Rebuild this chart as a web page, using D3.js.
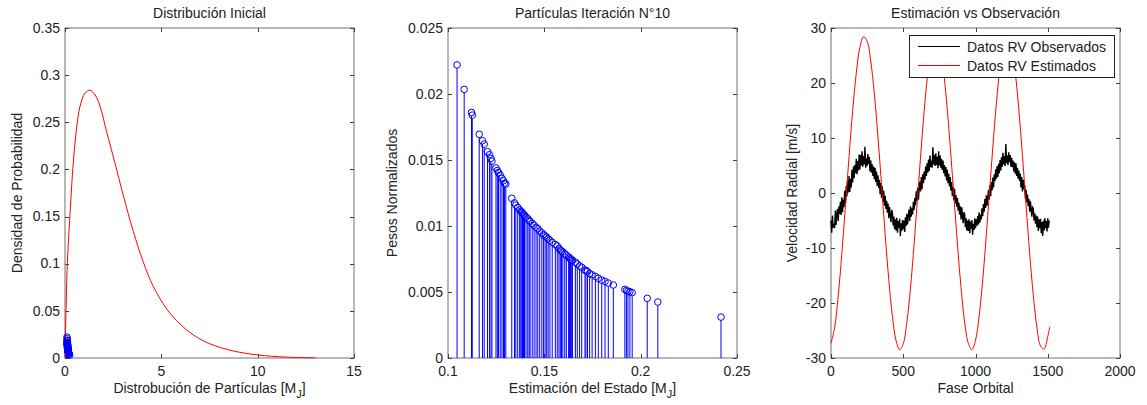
<!DOCTYPE html>
<html><head><meta charset="utf-8">
<script src="https://cdn.jsdelivr.net/npm/d3@7"></script>
<style>
body{margin:0;background:#fff}
svg{display:block}
text{font-family:"Liberation Sans",Arial,sans-serif;fill:#222;font-size:14px}
</style>
</head><body>
<svg id="c" width="1147" height="405"></svg>
<script>
// ---------- DATA ----------
// Panel 1: initial distribution (pdf curve)
const pdfX = [0, 0.02, 0.05, 0.12, 0.26, 0.43, 0.61, 0.78, 1.04, 1.30, 1.56, 1.82, 2.16, 2.59, 3.03, 3.55, 4.06, 4.58, 5.28, 5.97, 6.66, 7.52, 8.73, 9.98, 11.5, 13.0];
const pdfY = [0, 0.02, 0.047, 0.100, 0.153, 0.207, 0.245, 0.267, 0.281, 0.284, 0.279, 0.267, 0.240, 0.207, 0.172, 0.134, 0.102, 0.076, 0.052, 0.036, 0.0245, 0.0150, 0.0075, 0.0033, 0.0009, 0.0002];

// Panel 2: particles (state estimate, normalized weight)
const partX = [0.1047,0.1084,0.1122,0.1126,0.1162,0.1179,0.1188,0.1205,0.1215,0.1223,0.1228,0.1249,0.1256,0.1262,0.1271,0.1280,0.1288,0.1293,0.1300,
  0.1331,0.1345,0.1352,0.1362,0.1372,0.1378,0.1383,0.1387,0.1392,0.1397,0.1405,0.1414,0.1421,0.1426,0.1437,0.1447,0.1457,0.1466,0.1476,0.1487,0.1496,
  0.1504,0.1512,0.1520,0.1529,0.1541,0.1557,0.1567,0.1576,0.1583,0.1589,0.1596,0.1606,0.1614,0.1626,0.1631,0.1636,0.1642,0.1646,0.1661,0.1671,0.1683,
  0.1694,0.1711,0.1716,0.1724,0.1735,0.1748,0.1765,0.1780,0.1798,0.1815,0.1832,0.1858,0.1918,0.1926,0.1934,0.1944,0.1956,0.2034,0.2089,0.2417];
const partW = [0.0222,0.02035,0.0186,0.0184,0.01695,0.01646,0.0162,0.01563,0.0154,0.01513,0.01492,0.0144,0.0142,0.01405,0.01386,0.01361,0.01343,0.01325,0.01318,
  0.0121,0.01175,0.01158,0.0114,0.01122,0.01112,0.01105,0.01098,0.0109,0.01082,0.01068,0.01055,0.01043,0.01035,0.0102,0.01005,0.0099,0.0098,0.00962,0.00948,0.00935,
  0.00925,0.00915,0.00903,0.00892,0.00876,0.0086,0.00848,0.0083,0.00818,0.0081,0.00803,0.0079,0.00779,0.00765,0.00758,0.0075,0.00744,0.0074,0.00726,0.00712,0.00697,
  0.00687,0.00667,0.00661,0.00655,0.0064,0.0063,0.00618,0.00604,0.0059,0.0058,0.00568,0.00553,0.0052,0.00512,0.00506,0.00502,0.00495,0.00452,0.00424,0.0031];

// Panel 3: observed RV (one value every 5 phase units, from 0)
const obsStep = 5;
const obsRV = [
 -5.0,-7.2,-4.1,-6.3,-5.6, -6.4,-3.2,-5.8,-4.0,-2.9, -5.1,-2.4,-3.8,-1.6,-4.0, -0.8,-3.5,-1.2,-2.6,0.4, -1.9,1.2,-0.6,2.3,0.1,
 3.1,0.2,2.6,1.0,4.2, 1.9,4.8,2.7,5.1,3.6, 6.2,3.4,5.8,4.1,7.0, 4.3,6.9,5.0,7.6,4.8, 6.7,5.2,8.4,4.6,6.3,
 4.9,7.1,5.3,6.6,3.9, 5.9,3.7,5.2,3.1,4.8, 2.5,4.6,2.0,3.9,1.3, 3.2,0.9,2.4,-0.2,1.8, -0.9,1.2,-1.6,0.4,-2.3,
 -0.5,-2.9,-1.4,-3.6,-1.9, -4.6,-2.5,-4.0,-5.3,-3.1, -3.6,-5.9,-4.3,-6.6,-4.8, -6.8,-4.5,-7.2,-5.1,-6.3, -4.7,-7.8,-5.5,-6.9,-4.9,
 -6.6,-5.0,-7.1,-4.4,-6.0, -3.8,-5.7,-4.2,-3.0,-5.1, -2.4,-4.3,-2.8,-3.9,-1.6, -3.1,-0.9,-2.2,0.3,-1.4, 1.0,-1.2,0.8,2.1,0.3,
 2.9,0.7,3.4,1.8,3.9, 2.4,4.8,3.1,5.4,3.7, 6.1,4.0,6.8,4.7,5.9, 4.6,8.3,5.2,6.9,4.9, 7.2,5.1,6.6,4.5,7.6,
 5.0,6.8,4.6,6.2,4.2, 5.9,3.6,5.1,3.0,4.7, 2.3,4.2,1.8,3.5,1.2, 2.9,0.4,2.0,-0.6,1.1, -1.3,0.8,-1.9,-0.4,-2.5,
 -0.9,-3.2,-1.8,-3.9,-2.4, -4.8,-2.6,-4.2,-5.5,-3.5, -3.9,-6.2,-4.6,-6.8,-5.0, -6.9,-4.8,-7.3,-5.2,-6.5, -4.9,-7.6,-5.6,-6.7,-4.6,
 -6.4,-4.8,-6.0,-4.2,-5.7, -3.5,-5.4,-3.9,-4.8,-2.8, -4.2,-2.0,-3.4,-1.1,-2.7, -0.4,-2.3,-0.9,0.6,-1.2, 1.4,-0.6,2.0,0.5,2.8,
 1.0,3.4,2.2,4.3,2.6, 4.9,2.9,5.3,3.6,6.0, 4.1,6.5,4.8,7.3,5.2, 6.7,4.9,8.9,5.4,6.8, 5.1,7.4,5.6,6.9,4.8,
 6.4,4.7,5.9,3.9,5.6, 3.5,5.4,3.1,4.6,2.6, 4.1,2.2,3.5,1.0,2.9, 0.3,2.4,0.7,1.5,-1.0, 0.6,-1.7,-0.3,-2.4,-1.1,
 -3.4,-1.5,-3.0,-4.3,-2.6, -2.8,-5.0,-3.7,-5.6,-4.1, -6.2,-4.3,-6.9,-4.8,-6.4, -4.7,-7.3,-5.3,-7.8,-5.0, -6.8,-4.6,-6.4,-5.1,-7.0,
 -4.6,-6.3,-5.0];

// Panel 3: estimated RV
const estFase = [0,25,50,75,100,125,150,175,200,225,250,275,300,325,350,375,400,425,450,475,500,525,550,575,600,625,650,675,700,725,
  750,775,800,825,850,875,900,925,950,975,1000,1025,1050,1075,1100,1125,1150,1175,1200,1225,1250,1275,1300,1325,1350,1375,1400,1425,1450,1475,1500,1515];
const estRV = [-27.3,-24.5,-18.7,-11.0,-2.3,6.7,15.0,21.8,26.5,28.4,27.6,24.0,18.0,10.2,1.4,-7.6,-15.8,-22.4,-26.8,-28.5,-27.4,-23.5,-17.3,-9.3,-0.5,
  8.4,16.5,22.9,27.1,28.5,27.1,23.0,16.6,8.5,-0.4,-9.3,-17.2,-23.5,-27.3,-28.5,-26.8,-22.4,-15.8,-7.6,1.3,10.1,17.9,24.0,27.6,28.4,26.5,21.9,15.1,6.8,-2.2,
  -11.0,-18.6,-24.4,-27.8,-28.4,-26.1,-24.3];

// Tick values
const p1XTicks = [0,5,10,15];
const p1YTicks = [0,0.05,0.1,0.15,0.2,0.25,0.3,0.35];
const p2XTicks = [0.1,0.15,0.2,0.25];
const p2YTicks = [0,0.005,0.01,0.015,0.02,0.025];
const p3XTicks = [0,500,1000,1500,2000];
const p3YTicks = [-30,-20,-10,0,10,20,30];
const legendLabels = ["Datos RV Observados","Datos RV Estimados"];

// ---------- DRAW ----------
const svg = d3.select("#c");
const plotTop = 28, plotBottom = 358;
const fmt = d => String(+d.toFixed(4));

function axesFrame(g, x, y, xt, yt, title, xlab, ylab, ylabX) {
  const [l, r] = x.range();
  g.append("rect").attr("x", l).attr("y", plotTop).attr("width", r - l).attr("height", plotBottom - plotTop)
    .attr("fill", "#fff").attr("stroke", "#707070").attr("stroke-width", 1);
  const tk = g.append("g").attr("stroke", "#404040").attr("stroke-width", 1);
  xt.forEach(v => {
    const px = Math.round(x(v)) + 0.5;
    tk.append("line").attr("x1", px).attr("x2", px).attr("y1", plotBottom).attr("y2", plotBottom - 4);
    tk.append("line").attr("x1", px).attr("x2", px).attr("y1", plotTop).attr("y2", plotTop + 4);
    g.append("text").attr("x", x(v)).attr("y", plotBottom + 18).attr("text-anchor", "middle").text(fmt(v));
  });
  yt.forEach(v => {
    const py = Math.round(y(v)) + 0.5;
    tk.append("line").attr("x1", l).attr("x2", l + 4).attr("y1", py).attr("y2", py);
    tk.append("line").attr("x1", r).attr("x2", r - 4).attr("y1", py).attr("y2", py);
    g.append("text").attr("x", l - 5).attr("y", y(v)).attr("dy", "0.34em").attr("text-anchor", "end").text(fmt(v));
  });
  g.append("text").attr("x", (l + r) / 2).attr("y", 18).attr("text-anchor", "middle").text(title);
  const xl = g.append("text").attr("x", (l + r) / 2).attr("y", 393).attr("text-anchor", "middle");
  if (Array.isArray(xlab)) {
    xl.append("tspan").text(xlab[0]);
    xl.append("tspan").attr("dy", 5).attr("font-size", 11).text(xlab[1]);
    xl.append("tspan").attr("dy", -5).text(xlab[2]);
  } else xl.text(xlab);
  g.append("text").attr("transform", `translate(${ylabX},${(plotTop + plotBottom) / 2}) rotate(-90)`)
    .attr("text-anchor", "middle").text(ylab);
}

function stems(g, x, y, col) {
  const s = g.append("g");
  partX.forEach((v, i) => {
    s.append("line").attr("x1", x(v)).attr("x2", x(v)).attr("y1", y(0)).attr("y2", y(partW[i]) + 3.3)
      .attr("stroke", col).attr("stroke-width", 1);
  });
  partX.forEach((v, i) => {
    s.append("circle").attr("cx", x(v)).attr("cy", y(partW[i])).attr("r", 3.3)
      .attr("fill", "none").attr("stroke", col).attr("stroke-width", 1);
  });
}

// Panel 1
{
  const g = svg.append("g");
  const x = d3.scaleLinear().domain([0, 15]).range([65, 354]);
  const y = d3.scaleLinear().domain([0, 0.35]).range([plotBottom, plotTop]);
  axesFrame(g, x, y, p1XTicks, p1YTicks, "Distribución Inicial", ["Distrobución de Partículas [M", "J", "]"], "Densidad de Probabilidad", 22);
  g.append("path").datum(pdfX.map((v, i) => [v, pdfY[i]]))
    .attr("d", d3.line().x(d => x(d[0])).y(d => y(d[1])).curve(d3.curveCatmullRom.alpha(0.5)))
    .attr("fill", "none").attr("stroke", "#ff0000").attr("stroke-width", 1);
  stems(g, x, y, "#0000ff");
}

// Panel 2
{
  const g = svg.append("g");
  const x = d3.scaleLinear().domain([0.1, 0.25]).range([448, 737]);
  const y = d3.scaleLinear().domain([0, 0.025]).range([plotBottom, plotTop]);
  axesFrame(g, x, y, p2XTicks, p2YTicks, "Partículas Iteración N°10", ["Estimación del Estado [M", "J", "]"], "Pesos Normalizados", 397);
  stems(g, x, y, "#0000ff");
}

// Panel 3
{
  const g = svg.append("g");
  const x = d3.scaleLinear().domain([0, 2000]).range([831, 1120]);
  const y = d3.scaleLinear().domain([-30, 30]).range([plotBottom, plotTop]);
  axesFrame(g, x, y, p3XTicks, p3YTicks, "Estimación vs Observación", "Fase Orbital", "Velocidad Radial [m/s]", 797);
  g.append("path").datum(obsRV.map((v, i) => [i * obsStep, v]))
    .attr("d", d3.line().x(d => x(d[0])).y(d => y(d[1])))
    .attr("fill", "none").attr("stroke", "#000").attr("stroke-width", 1.4);
  g.append("path").datum(estFase.map((v, i) => [v, estRV[i]]))
    .attr("d", d3.line().x(d => x(d[0])).y(d => y(d[1])).curve(d3.curveCatmullRom))
    .attr("fill", "none").attr("stroke", "#ff0000").attr("stroke-width", 1);
  // legend
  const lg = g.append("g");
  lg.append("rect").attr("x", 909.5).attr("y", 35.5).attr("width", 205).attr("height", 42)
    .attr("fill", "#fff").attr("stroke", "#222").attr("stroke-width", 1);
  const cols = ["#000", "#ff0000"];
  legendLabels.forEach((t, i) => {
    const yy = 46.5 + i * 19;
    lg.append("line").attr("x1", 918).attr("x2", 960).attr("y1", yy).attr("y2", yy).attr("stroke", cols[i]).attr("stroke-width", 1);
    lg.append("text").attr("x", 967).attr("y", yy + 5.5).text(t);
  });
}
</script>
</body></html>
